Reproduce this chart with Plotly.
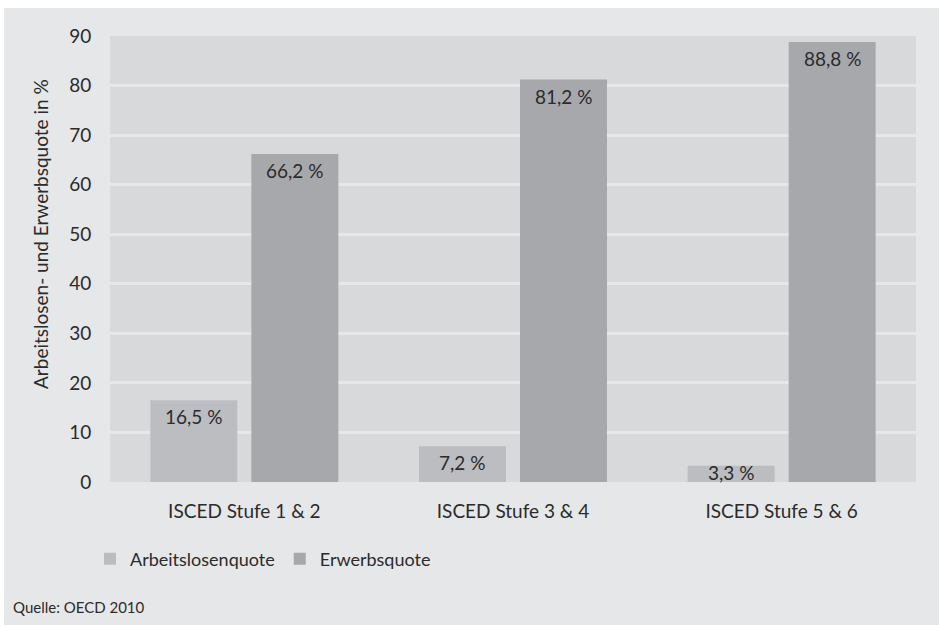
import plotly.graph_objects as go

categories = ["ISCED Stufe 1 & 2", "ISCED Stufe 3 & 4", "ISCED Stufe 5 & 6"]
arbeitslosenquote = [16.5, 7.2, 3.3]
erwerbsquote = [66.2, 81.2, 88.8]
series_names = ["Arbeitslosenquote", "Erwerbsquote"]
y_ticks = [0, 10, 20, 30, 40, 50, 60, 70, 80, 90]

FONT = "Lato, Open Sans, sans-serif"
TXT = "#2b2b2b"
OUTER = "#e6e7e9"
PLOTBG = "#d8d9db"
C1 = "#bcbdc0"
C2 = "#a7a8ab"
FS = 19

W, H = 939, 627
L, R, T, B = 110, 23, 36, 145
pw, ph = W - L - R, H - T - B
YMAX = 90
BARGAP, GROUPGAP = 0.248, 0.139


def px_x(p):
    return (p - L) / pw


def px_y(p):
    return (H - B - p) / ph


def fmt(v):
    return f"{v:.1f}".replace(".", ",") + " %"


fig = go.Figure()
series = [(series_names[0], arbeitslosenquote, C1), (series_names[1], erwerbsquote, C2)]
for name, vals, col in series:
    fig.add_trace(go.Bar(
        name=name, x=categories, y=vals, marker=dict(color=col, line=dict(width=0)),
        hoverinfo="skip",
    ))

# value labels placed at each bar's top, shifted to the bar's slot within the group
cat_px = pw / len(categories)
slot_px = cat_px * (1 - BARGAP) / len(series)
unit_px = ph / YMAX
annotations = []
for i, (name, vals, col) in enumerate(series):
    shift = (i - (len(series) - 1) / 2) * slot_px
    for c, v in zip(categories, vals):
        if v * unit_px > 32:
            annotations.append(dict(x=c, y=v, xref="x", yref="y", text=fmt(v),
                                    showarrow=False, xshift=shift, yanchor="top", yshift=-3,
                                    font=dict(family=FONT, size=FS, color=TXT)))
        else:
            annotations.append(dict(x=c, y=v / 2, xref="x", yref="y", text=fmt(v),
                                    showarrow=False, xshift=shift, yanchor="middle", yshift=1,
                                    font=dict(family=FONT, size=FS, color=TXT)))

annotations += [
    dict(text="Arbeitslosen- und Erwerbsquote in %", textangle=-90,
         xref="paper", yref="paper", x=px_x(41), y=px_y(234),
         xanchor="center", yanchor="middle", showarrow=False,
         font=dict(family=FONT, size=19, color=TXT)),
    dict(text="Quelle: OECD 2010", xref="paper", yref="paper",
         x=px_x(11), y=px_y(607), xanchor="left", yanchor="middle",
         showarrow=False, font=dict(family=FONT, size=15, color=TXT)),
]

fig.update_layout(
    width=W, height=H,
    margin=dict(l=L, r=R, t=T, b=B),
    paper_bgcolor=OUTER, plot_bgcolor=PLOTBG,
    barmode="group", bargap=BARGAP, bargroupgap=GROUPGAP,
    font=dict(family=FONT, size=FS, color=TXT),
    showlegend=True,
    legend=dict(orientation="h", x=px_x(90), y=px_y(559), xanchor="left", yanchor="middle",
                font=dict(family=FONT, size=18, color=TXT), bgcolor="rgba(0,0,0,0)",
                itemwidth=30, traceorder="normal"),
    xaxis=dict(showgrid=False, zeroline=False, showline=False,
               ticks="outside", ticklen=12, tickcolor="rgba(0,0,0,0)",
               tickfont=dict(family=FONT, size=FS, color=TXT)),
    yaxis=dict(range=[0, YMAX], tickvals=y_ticks, showgrid=True, gridcolor=OUTER,
               gridwidth=3, zeroline=False, showline=False,
               ticks="outside", ticklen=14, tickcolor="rgba(0,0,0,0)",
               tickfont=dict(family=FONT, size=FS, color=TXT)),
    annotations=annotations,
    shapes=[
        dict(type="rect", xref="paper", yref="paper", x0=px_x(-5), x1=px_x(W + 5),
             y0=px_y(8), y1=px_y(-5), fillcolor="white", line=dict(width=0), layer="above"),
        dict(type="rect", xref="paper", yref="paper", x0=px_x(-5), x1=px_x(4),
             y0=px_y(H + 5), y1=px_y(-5), fillcolor="white", line=dict(width=0), layer="above"),
        dict(type="rect", xref="paper", yref="paper", x0=px_x(-5), x1=px_x(W + 5),
             y0=px_y(H + 5), y1=px_y(625), fillcolor="white", line=dict(width=0), layer="above"),
    ],
)

fig.write_html("out.html")
